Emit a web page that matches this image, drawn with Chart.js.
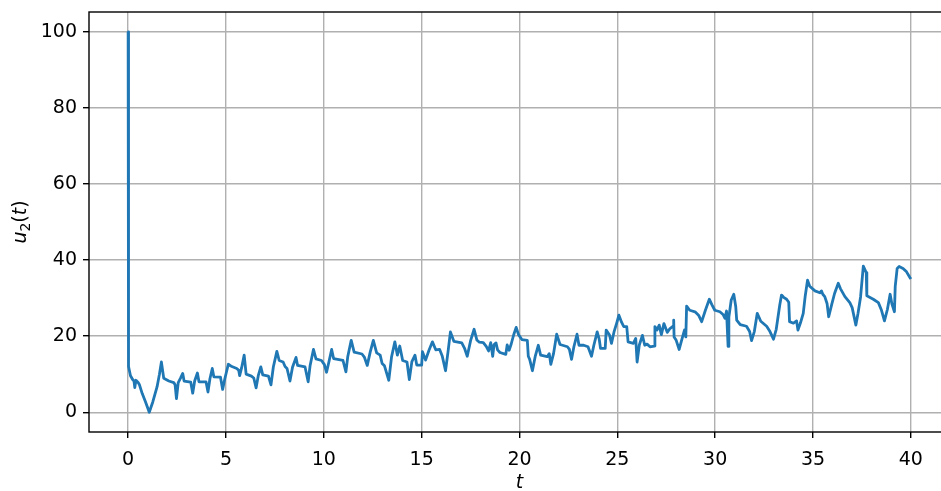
<!DOCTYPE html>
<html>
<head>
<meta charset="utf-8">
<script src="https://cdn.jsdelivr.net/npm/chart.js@4/dist/chart.umd.min.js"></script>
<style>
  html, body { margin: 0; padding: 0; background: #fff; overflow: hidden; }
  canvas { display: block; }
</style>
</head>
<body>
<canvas id="c" width="960" height="491"></canvas>
<script>
// Sampled trajectory of u2(t)
const tValues = [
  0, 0.02, 0.12, 0.23, 0.3, 0.34, 0.4, 0.51, 0.58, 0.72, 0.89, 1.08, 1.26, 1.48, 1.6, 1.7, 1.82, 2.08, 2.33, 2.4,
  2.47, 2.56, 2.67, 2.79, 2.86, 3.2, 3.3, 3.4, 3.54, 3.62, 3.98, 4.08, 4.18, 4.3, 4.38, 4.72, 4.83, 4.95, 5.12, 5.3,
  5.55, 5.65, 5.7, 5.8, 5.93, 6.03, 6.3, 6.42, 6.54, 6.65, 6.78, 6.88, 7.17, 7.3, 7.42, 7.6, 7.72, 7.92, 8.02, 8.12,
  8.27, 8.4, 8.58, 8.66, 9.04, 9.2, 9.3, 9.47, 9.6, 9.88, 10.03, 10.14, 10.25, 10.4, 10.5, 10.98, 11.13, 11.22, 11.4, 11.55,
  11.95, 12.07, 12.22, 12.37, 12.53, 12.7, 12.88, 12.98, 13.1, 13.32, 13.46, 13.63, 13.76, 13.88, 14.03, 14.25, 14.37, 14.5, 14.66, 14.75,
  15.0, 15.04, 15.2, 15.37, 15.55, 15.72, 15.92, 16.05, 16.22, 16.35, 16.47, 16.65, 17.05, 17.2, 17.33, 17.5, 17.68, 17.82, 17.95, 18.15,
  18.3, 18.42, 18.53, 18.63, 18.7, 18.8, 18.88, 19.0, 19.3, 19.37, 19.47, 19.58, 19.7, 19.83, 19.95, 20.12, 20.4, 20.45, 20.52, 20.66,
  20.8, 20.96, 21.08, 21.42, 21.52, 21.6, 21.74, 21.9, 22.07, 22.45, 22.55, 22.66, 22.78, 22.94, 23.04, 23.28, 23.5, 23.68, 23.8, 23.97,
  24.07, 24.14, 24.38, 24.43, 24.6, 24.7, 24.83, 24.96, 25.08, 25.22, 25.33, 25.48, 25.55, 25.82, 25.94, 26.01, 26.12, 26.28, 26.4, 26.52,
  26.67, 26.88, 26.92, 27.03, 27.14, 27.25, 27.38, 27.55, 27.69, 27.85, 27.88, 27.9, 28.0, 28.16, 28.28, 28.43, 28.5, 28.54, 28.7, 28.97,
  29.15, 29.31, 29.5, 29.7, 29.83, 29.98, 30.24, 30.4, 30.5, 30.58, 30.66, 30.7, 30.82, 30.95, 31.05, 31.1, 31.28, 31.6, 31.76, 31.86,
  32.0, 32.15, 32.33, 32.63, 32.8, 32.98, 33.12, 33.3, 33.39, 33.5, 33.65, 33.76, 33.8, 34.0, 34.16, 34.23, 34.36, 34.5, 34.6, 34.72,
  34.83, 35.1, 35.35, 35.43, 35.5, 35.6, 35.72, 35.8, 35.95, 36.1, 36.29, 36.4, 36.63, 36.88, 37.0, 37.19, 37.3, 37.43, 37.57, 37.72,
  37.75, 38.08, 38.34, 38.5, 38.65, 38.8, 38.94, 39.03, 39.16, 39.2, 39.3, 39.4, 39.6, 39.78, 39.95, 40.0
];
const uValues = [
  100, 12.0, 9.6, 8.6, 8.2, 6.5, 8.4, 7.8, 7.2, 4.9, 2.7, 0.0, 2.7, 6.7, 10.0, 13.2, 8.9, 8.2, 7.8, 7.2,
  3.6, 7.8, 8.9, 10.2, 8.2, 7.9, 5.0, 8.2, 10.3, 8.0, 8.0, 5.3, 8.8, 11.5, 9.3, 9.2, 6.0, 9.0, 12.6, 12.0,
  11.5, 11.0, 9.6, 11.7, 15.0, 10.0, 9.5, 9.0, 6.4, 9.6, 11.9, 9.8, 9.5, 7.2, 11.9, 16.0, 13.6, 13.2, 12.0, 11.5,
  8.2, 11.8, 14.4, 12.3, 11.9, 8.0, 12.3, 16.5, 14.0, 13.6, 12.5, 10.5, 13.0, 16.5, 14.1, 13.6, 10.6, 14.5, 18.9, 15.8,
  15.3, 14.5, 12.3, 15.8, 18.9, 15.6, 15.0, 12.8, 12.2, 8.4, 14.5, 18.5, 15.0, 17.4, 13.6, 13.2, 8.6, 13.3, 15.0, 12.4,
  12.4, 15.9, 13.7, 16.2, 18.5, 16.4, 16.5, 14.8, 10.9, 16.0, 21.1, 18.6, 18.2, 16.7, 14.7, 18.8, 21.8, 19.0, 18.4, 18.3,
  17.3, 16.1, 18.3, 14.7, 17.8, 18.2, 16.4, 15.7, 15.2, 17.7, 16.3, 18.0, 20.3, 22.3, 20.4, 19.1, 18.9, 14.7, 13.9, 10.9,
  14.6, 17.6, 15.0, 14.6, 15.4, 12.6, 15.4, 20.5, 17.8, 17.2, 16.5, 13.9, 17.2, 20.5, 17.6, 17.6, 17.2, 14.7, 17.6, 21.1,
  19.3, 16.8, 16.8, 21.6, 20.3, 18.1, 21.1, 23.3, 25.5, 23.6, 22.5, 22.5, 18.5, 18.1, 19.4, 13.2, 17.6, 20.2, 17.6, 17.9,
  17.2, 17.4, 22.5, 21.6, 22.9, 20.4, 23.3, 21.0, 22.0, 22.6, 24.2, 19.8, 19.0, 16.5, 18.8, 21.6, 19.8, 27.9, 26.8, 26.4,
  25.5, 23.8, 26.8, 29.7, 28.3, 26.8, 26.4, 25.7, 24.7, 26.6, 17.3, 25.0, 29.5, 31.0, 27.8, 24.2, 23.0, 22.6, 21.2, 18.8,
  21.2, 26.0, 23.9, 22.6, 21.2, 19.2, 21.8, 28.2, 30.8, 30.2, 29.7, 28.9, 23.8, 23.4, 24.0, 21.6, 23.5, 26.0, 30.5, 34.7,
  33.1, 31.9, 31.4, 31.9, 31.0, 30.4, 28.5, 25.1, 28.2, 31.2, 33.9, 32.5, 30.4, 28.8, 27.5, 22.9, 26.0, 30.3, 38.4, 36.7,
  30.6, 29.7, 28.8, 26.8, 24.0, 27.0, 31.0, 28.5, 26.4, 33.0, 37.8, 38.3, 37.8, 36.9, 35.4, 35.0
];

// Tick positions and axis limits
const xTicks = [0, 5, 10, 15, 20, 25, 30, 35, 40];
const yTicks = [0, 20, 40, 60, 80, 100];
const xLimits = [-2, 42];
const yLimits = [-5.2, 105.2];

const FONT = "'DejaVu Sans', sans-serif";
const FS = 19;
const points = tValues.map((t, i) => ({ x: t, y: uValues[i] }));

// Frame around the axes plus the math-style axis labels
const axisDecor = {
  id: 'axisDecor',
  afterDraw(chart) {
    const ctx = chart.ctx;
    const a = chart.chartArea;
    ctx.save();
    ctx.strokeStyle = '#000';
    ctx.lineWidth = 1.4;
    ctx.strokeRect(a.left, a.top, a.right - a.left, a.bottom - a.top);

    ctx.fillStyle = '#000';
    ctx.textBaseline = 'alphabetic';
    ctx.textAlign = 'left';

    // y label: u_2(t)
    const parts = [
      { s: 'u', f: 'italic ' + FS + 'px ' + FONT, dy: 0 },
      { s: '2', f: Math.round(FS * 0.72) + 'px ' + FONT, dy: 4 },
      { s: '(', f: FS + 'px ' + FONT, dy: 0 },
      { s: 't', f: 'italic ' + FS + 'px ' + FONT, dy: 0 },
      { s: ')', f: FS + 'px ' + FONT, dy: 0 }
    ];
    let total = 0;
    parts.forEach(p => { ctx.font = p.f; p.w = ctx.measureText(p.s).width; total += p.w; });
    ctx.save();
    ctx.translate(26, (a.top + a.bottom) / 2);
    ctx.rotate(-Math.PI / 2);
    let x = -total / 2;
    parts.forEach(p => { ctx.font = p.f; ctx.fillText(p.s, x, p.dy); x += p.w; });
    ctx.restore();

    // x label: t
    ctx.font = 'italic ' + FS + 'px ' + FONT;
    ctx.textAlign = 'center';
    ctx.fillText('t', 519.5, 488);
    ctx.restore();
  }
};

const gridStyle = {
  color: '#b0b0b0',
  lineWidth: 1.4,
  drawTicks: true,
  tickLength: 6,
  tickColor: '#000',
  tickWidth: 1.4
};

new Chart(document.getElementById('c'), {
  type: 'line',
  data: {
    datasets: [{
      data: points,
      borderColor: '#1f77b4',
      borderWidth: 2.8,
      pointRadius: 0,
      fill: false,
      tension: 0,
      borderJoinStyle: 'round',
      borderCapStyle: 'butt'
    }]
  },
  options: {
    responsive: false,
    animation: false,
    devicePixelRatio: 1,
    layout: { padding: { top: 12, right: 10, left: 0, bottom: 0 } },
    plugins: { legend: { display: false }, tooltip: { enabled: false } },
    scales: {
      x: {
        type: 'linear',
        min: xLimits[0],
        max: xLimits[1],
        grid: gridStyle,
        border: { display: false },
        ticks: { color: '#000', font: { family: FONT, size: FS }, padding: 11, autoSkip: false, maxRotation: 0 },
        afterBuildTicks: s => { s.ticks = xTicks.map(v => ({ value: v })); },
        afterFit: s => { s.height = 59; s.paddingLeft = 0; s.paddingRight = 0; s.paddingTop = 0; s.paddingBottom = 0; }
      },
      y: {
        type: 'linear',
        min: yLimits[0],
        max: yLimits[1],
        grid: gridStyle,
        border: { display: false },
        ticks: { color: '#000', font: { family: FONT, size: FS }, padding: 6, autoSkip: false, maxRotation: 0 },
        afterBuildTicks: s => { s.ticks = yTicks.map(v => ({ value: v })); },
        afterFit: s => { s.width = 89; s.paddingLeft = 0; s.paddingRight = 0; s.paddingTop = 0; s.paddingBottom = 0; }
      }
    }
  },
  plugins: [axisDecor]
});
</script>
</body>
</html>
